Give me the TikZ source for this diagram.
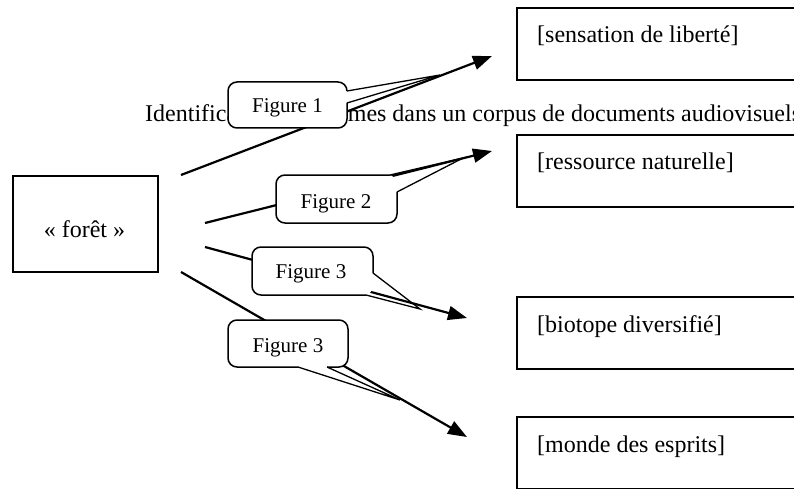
\documentclass[tikz,border=0pt]{standalone}
\usepackage{fontspec}
\setmainfont{Liberation Serif}
\usetikzlibrary{arrows.meta}
\begin{document}
\begin{tikzpicture}[x=1pt,y=-1pt,
  box/.style={draw,line width=1.6pt,anchor=north west,inner sep=0pt},
  conn/.style={line width=2.2pt,-{Triangle[length=19pt,width=14pt]}},
  callline/.style={line width=1.5pt,rounded corners=9pt},
  wedgeline/.style={line width=1.3pt,line join=miter},
  big/.style={font=\fontsize{24}{28}\selectfont,inner sep=0pt},
  small/.style={font=\fontsize{21}{25}\selectfont,inner sep=0pt},
]
\clip (0,0) rectangle (794,489);
\fill[white] (0,0) rectangle (794,489);

% title line
\node[big,anchor=base west] (title) at (145,122) {Identification des thèmes dans un corpus de documents audiovisuels};

% left box
\node[box,minimum width=145pt,minimum height=96pt] (foret) at (12,175) {};
\node[big,anchor=base] (foretlbl) at (84.5,237) {« forêt »};

% right boxes
\node[box,minimum width=300pt,minimum height=72pt] (b1) at (516,7) {};
\node[big,anchor=base west] (t1) at (537,43) {[sensation de liberté]};
\node[box,minimum width=300pt,minimum height=72pt] (b2) at (516,134) {};
\node[big,anchor=base west] (t2) at (537,170) {[ressource naturelle]};
\node[box,minimum width=300pt,minimum height=72pt] (b3) at (516,296) {};
\node[big,anchor=base west] (t3) at (537,332) {[biotope diversifié]};
\node[box,minimum width=300pt,minimum height=72pt] (b4) at (516,416) {};
\node[big,anchor=base west] (t4) at (537,452) {[monde des esprits]};

% arrows
\coordinate (s1) at (181,175); \coordinate (e1) at (492,56);
\coordinate (s2) at (205,223); \coordinate (e2) at (492,151);
\coordinate (s3) at (205,247); \coordinate (e3) at (467,318);
\coordinate (s4) at (181,272); \coordinate (e4) at (467,437);
\draw[conn] (s1) -- (e1);
\draw[conn] (s2) -- (e2);
\draw[conn] (s3) -- (e3);
\draw[conn] (s4) -- (e4);

% callout 1
\fill[white,rounded corners=9pt] (228,82) rectangle (347,128);
\draw[callline] (347,103) -- (347,128) -- (228,128) -- (228,82) -- (347,82) -- (347,91);
\draw[wedgeline] (347,91) -- (440,75) -- (347,103);
\node[small,anchor=base] (c1) at (287.5,113) {Figure 1};

% callout 2
\fill[white,rounded corners=9pt] (276,175) rectangle (397,223);
\draw[callline] (397,192) -- (397,223) -- (276,223) -- (276,175) -- (390,175);
\draw[wedgeline] (390,175) -- (463,158) -- (397,192);
\node[small,anchor=base] (c2) at (336,208) {Figure 2};

% callout 3
\fill[white,rounded corners=9pt] (252,247) rectangle (373,295);
\draw[callline] (366,295) -- (252,295) -- (252,247) -- (373,247) -- (373,273);
\draw[wedgeline] (373,273) -- (420,309) -- (366,295);
\node[small,anchor=base] (c3) at (311,278) {Figure 3};

% callout 4
\fill[white,rounded corners=9pt] (228,320) rectangle (348,367);
\draw[callline] (327,367) -- (348,367) -- (348,320) -- (228,320) -- (228,367) -- (298,367);
\draw[wedgeline] (298,367) -- (400,400) -- (327,367);
\node[small,anchor=base] (c4) at (288,352) {Figure 3};
\end{tikzpicture}
\end{document}
